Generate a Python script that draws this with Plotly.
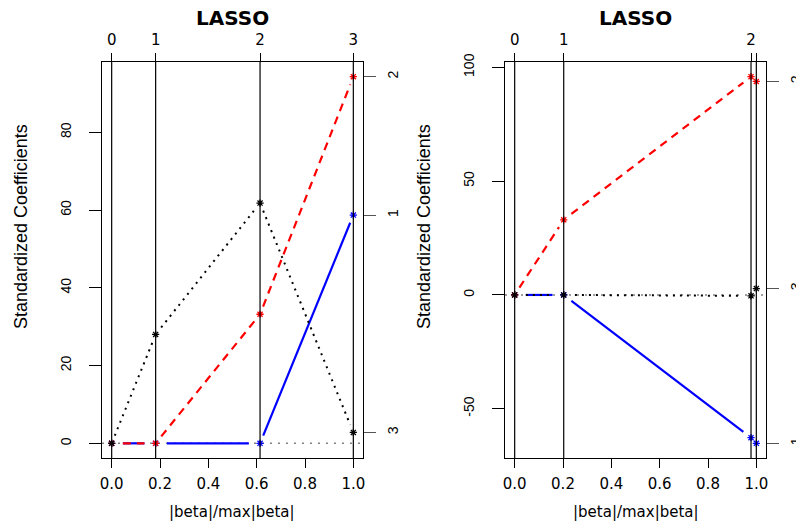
import math
import plotly.graph_objects as go

W, H = 796, 524

# ---------------- data ----------------
x_ticks = [0.0, 0.2, 0.4, 0.6, 0.8, 1.0]
x_tick_labels = ["0.0", "0.2", "0.4", "0.6", "0.8", "1.0"]

# left panel
left_steps = [0.0, 0.182, 0.614, 1.0]
left_step_labels = ["0", "1", "2", "3"]
left_var1 = [0.0, 0.0, 0.0, 58.7]     # blue, solid
left_var2 = [0.0, 0.0, 33.2, 94.3]    # red, dashed
left_var3 = [0.0, 28.0, 61.8, 2.8]    # black, dotted
left_var_labels = ["1", "2", "3"]
left_y_ticks = [0, 20, 40, 60, 80]

# right panel
right_steps = [0.0, 0.203, 0.978, 1.0]
right_step_labels = ["0", "1", "2", ""]
right_var1 = [0.0, 0.0, -62.7, -65.2]   # blue, solid
right_var2 = [0.0, 33.0, 95.9, 93.8]    # red, dashed
right_var3 = [0.0, 0.0, -0.4, 2.8]      # black, dotted
right_var_labels = ["1", "2", "3"]
right_y_ticks = [-50, 0, 50, 100]

# ---------------- styling ----------------
COLORS = ["#0000FF", "#FF0000", "#000000"]
DASHES = ["solid", "8px,6px", "2px,5px"]
WIDTHS = [2.2, 2.2, 2.0]

BOX_TOP, BOX_BOTTOM = 62, 458
LEFT_BOX = (102, 363)
RIGHT_BOX = (505, 766)

HFONT = "DejaVu Sans"
VFONT = "Liberation Sans"


def expand(lo, hi, f=0.04):
    d = (hi - lo) * f
    return [lo - d, hi + d]


def gapped(xs, ys, xr, yr, bw, bh, gap=8.0, sx=1.4):
    """R type='b' style: segments shortened near each point."""
    kx = bw / (xr[1] - xr[0])
    ky = bh / (yr[1] - yr[0])
    X, Y = [], []
    for i in range(len(xs) - 1):
        dx = (xs[i + 1] - xs[i]) * kx / sx
        dy = (ys[i + 1] - ys[i]) * ky
        L = math.hypot(dx, dy)
        if L <= 2 * gap:
            continue
        f = gap / L
        X += [xs[i] + f * (xs[i + 1] - xs[i]), xs[i + 1] - f * (xs[i + 1] - xs[i]), None]
        Y += [ys[i] + f * (ys[i + 1] - ys[i]), ys[i + 1] - f * (ys[i + 1] - ys[i]), None]
    return X, Y


fig = go.Figure()
shapes = []
annotations = []


def add_panel(idx, box, steps, step_labels, series, var_labels, y_ticks):
    xa = 2 * idx - 1  # bottom x / left y
    xb = 2 * idx      # top x / right y
    xn = "x" if xa == 1 else f"x{xa}"
    yn = "y" if xa == 1 else f"y{xa}"
    xn2, yn2 = f"x{xb}", f"y{xb}"
    xkey = "xaxis" if xa == 1 else f"xaxis{xa}"
    ykey = "yaxis" if xa == 1 else f"yaxis{xa}"

    allv = [v for s in series for v in s]
    xr = expand(0.0, 1.0)
    yr = expand(min(allv), max(allv))
    bw = box[1] - box[0]
    bh = BOX_BOTTOM - BOX_TOP

    for k, s in enumerate(series):
        gx, gy = gapped(steps, s, xr, yr, bw, bh)
        fig.add_trace(go.Scatter(x=gx, y=gy, mode="lines", xaxis=xn, yaxis=yn,
                                 line=dict(color=COLORS[k], dash=DASHES[k], width=WIDTHS[k]),
                                 hoverinfo="skip", showlegend=False))
    for k, s in enumerate(series):
        fig.add_trace(go.Scatter(x=steps, y=s, mode="markers", xaxis=xn2, yaxis=yn2,
                                 marker=dict(symbol="asterisk-open", size=6, color=COLORS[k],
                                             line=dict(color=COLORS[k], width=1.3)),
                                 showlegend=False))

    xdom = [box[0] / W, box[1] / W]
    ydom = [(H - BOX_BOTTOM) / H, (H - BOX_TOP) / H]
    common = dict(showgrid=False, zeroline=False, showline=True, linecolor="black",
                  linewidth=1, ticks="outside", tickcolor="black", tickwidth=1,
                  automargin=False)
    final_vals = [s[-1] for s in series]
    fig.update_layout({
        xkey: dict(common, domain=xdom, anchor=yn, range=xr, tickvals=x_ticks,
                   ticktext=x_tick_labels, ticklen=9, ticklabelstandoff=3,
                   tickfont=dict(family=HFONT, size=15, color="black")),
        f"xaxis{xb}": dict(common, overlaying=xn, side="top", anchor=yn2, range=xr,
                           tickvals=steps, ticktext=step_labels, ticklen=8,
                           ticklabelstandoff=2,
                           tickfont=dict(family=HFONT, size=15, color="black")),
        ykey: dict(common, domain=ydom, anchor=xn, range=yr, tickvals=y_ticks,
                   ticktext=[str(t) for t in y_ticks], ticklen=12, tickangle=-90,
                   ticklabelstandoff=12,
                   tickfont=dict(family=VFONT, size=14, color="black")),
        f"yaxis{xb}": dict(common, overlaying=yn, side="right", anchor=xn2, range=yr,
                           tickvals=final_vals, ticktext=var_labels, ticklen=12,
                           tickcolor="#555555", tickangle=-90, ticklabelstandoff=5,
                           tickfont=dict(family=VFONT, size=14, color="black")),
    })

    # vertical lines at each step
    for sx in steps:
        shapes.append(dict(type="line", xref=xn, yref=f"{yn} domain", x0=sx, x1=sx,
                           y0=0, y1=1, line=dict(color="black", width=1.2), layer="above"))
    # horizontal zero line
    shapes.append(dict(type="line", xref=f"{xn} domain", yref=yn, x0=0, x1=1, y0=0, y1=0,
                       line=dict(color="#808080", width=1.5, dash="2px,6px"), layer="below"))

    cx = (box[0] + box[1]) / 2 / W
    annotations.append(dict(text="<b>LASSO</b>", xref="paper", yref="paper", x=cx,
                            y=1 - 18 / H, xanchor="center", yanchor="middle", showarrow=False,
                            font=dict(family=HFONT, size=20, color="black")))
    annotations.append(dict(text="|beta|/max|beta|", xref="paper", yref="paper", x=cx,
                            y=1 - 512 / H, xanchor="center", yanchor="middle", showarrow=False,
                            font=dict(family=HFONT, size=15, color="black")))
    annotations.append(dict(text="Standardized Coefficients", xref="paper", yref="paper",
                            x=(box[0] - 81) / W, y=1 - 227 / H, xanchor="center",
                            yanchor="middle", textangle=-90, showarrow=False,
                            font=dict(family=VFONT, size=18, color="black")))


add_panel(1, LEFT_BOX, left_steps, left_step_labels,
          [left_var1, left_var2, left_var3], left_var_labels, left_y_ticks)
add_panel(2, RIGHT_BOX, right_steps, right_step_labels,
          [right_var1, right_var2, right_var3], right_var_labels, right_y_ticks)

fig.update_layout(width=W, height=H, margin=dict(l=0, r=0, t=0, b=0, autoexpand=False),
                  paper_bgcolor="white", plot_bgcolor="white", showlegend=False,
                  shapes=shapes, annotations=annotations)

fig.write_html("out.html", config={"displayModeBar": False},
               post_script="document.body.style.margin='0';document.body.style.overflow='hidden';")
